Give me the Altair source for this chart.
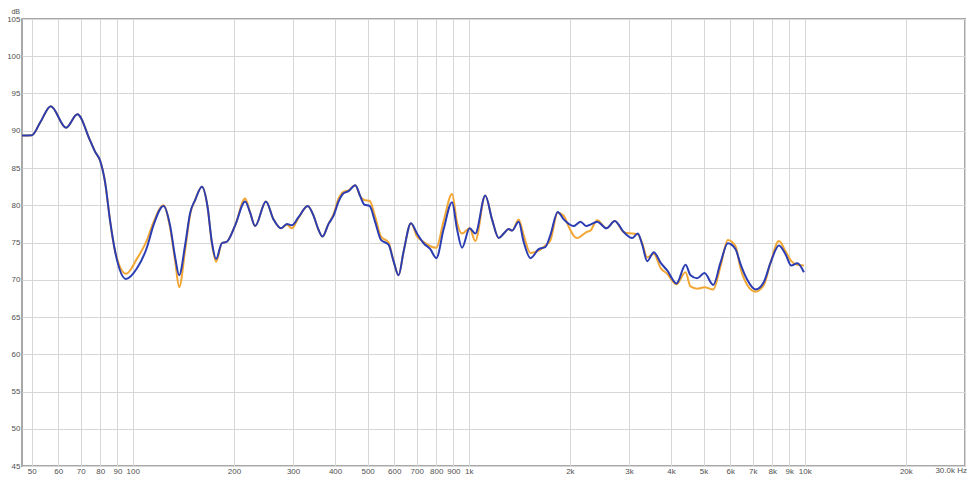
import altair as alt
import pandas as pd

# Frequencies (Hz)
freq = [46.8, 50.1, 53.0, 57.0, 63.3, 68.4, 74.6, 77.2, 79.9, 82.7, 85.6, 88.6, 95.5,
        102.8, 110.1, 115.2, 123.4, 129.1, 133.7, 137.4, 143.2, 148.2, 153.3, 160.6,
        166.8, 171.9, 177.0, 184.1, 190.5, 201.7, 216.0, 223.5, 231.3, 249.0, 262.4,
        276.0, 287.6, 297.6, 311.4, 331.7, 345.1, 356.5, 367.1, 382.5, 395.9, 409.7,
        424.0, 438.7, 459.4, 475.5, 488.7, 506.8, 527.0, 548.0, 577.2, 597.3, 618.2,
        639.9, 673.1, 701.5, 734.0, 768.5, 800.8, 842.0, 891.8, 922.8, 955.0, 1006,
        1046, 1120, 1173, 1228, 1271, 1315, 1346, 1408, 1457, 1526, 1615, 1691, 1750,
        1840, 1917, 1985, 2054, 2102, 2150, 2240, 2302, 2412, 2570, 2721, 2893, 3064,
        3185, 3284, 3398, 3555, 3723, 3897, 4153, 4418, 4572, 4787, 5031, 5342, 5616,
        5904, 6224, 6442, 6745, 7141, 7558, 7913, 8381, 8773, 9123, 9506, 9945]

# Blue trace (dB)
blue_db = [89.35, 89.4, 91.1, 93.3, 90.4, 92.2, 88.7, 87.2, 86.0, 83.1, 77.9, 73.8, 70.1,
           71.5, 74.3, 77.3, 79.9, 77.3, 73.0, 70.6, 74.7, 79.0, 80.7, 82.5,
           79.9, 75.1, 72.8, 74.9, 75.1, 77.3, 80.5, 79.0, 77.2, 80.5, 78.1,
           76.9, 77.5, 77.3, 78.4, 79.9, 78.6, 76.8, 75.8, 77.5, 78.6, 80.5,
           81.6, 81.9, 82.7, 81.2, 80.1, 79.9, 77.7, 75.35, 74.7, 72.5, 70.6,
           73.8, 77.6, 76.2, 74.9, 74.1, 72.9, 76.8, 80.4, 76.8, 74.3, 76.9,
           76.2, 81.3, 78.1, 75.6, 76.2, 76.8, 76.6, 77.8, 75.1, 72.9, 74.1, 74.4, 76.0,
           79.1, 78.1, 77.5, 77.2, 77.5, 77.8, 77.2, 77.4, 77.8, 76.9, 77.9, 76.4, 75.6,
           76.2, 74.7, 72.5, 73.7, 72.3, 71.25, 69.5, 72.0, 70.6, 70.2, 70.9, 69.3, 72.3,
           74.9, 74.1, 72.1, 70.0, 68.7, 69.7, 72.3, 74.6, 73.4, 71.9, 72.2, 71.0]

# Orange trace (dB)
orange_db = [89.35, 89.4, 91.1, 93.3, 90.4, 92.2, 88.7, 87.2, 86.0, 83.1, 77.9, 73.8, 70.8,
             72.8, 75.3, 77.7, 80.0, 77.0, 72.5, 69.0, 74.0, 78.8, 80.7, 82.5,
             79.9, 74.9, 72.4, 74.9, 75.1, 77.3, 80.9, 79.0, 77.2, 80.5, 78.1,
             76.9, 77.4, 76.9, 78.3, 79.9, 78.6, 76.8, 75.8, 77.5, 78.8, 80.9,
             81.8, 82.0, 82.7, 81.2, 80.7, 80.6, 78.4, 75.8, 75.0, 72.5, 70.6,
             73.8, 77.6, 75.8, 75.1, 74.5, 74.3, 77.9, 81.5, 77.7, 76.2, 76.9,
             75.2, 81.3, 78.1, 75.6, 76.2, 76.8, 76.6, 78.1, 76.0, 73.6, 73.9, 74.6, 75.3,
             79.0, 78.6, 77.1, 75.9, 75.6, 75.8, 76.4, 76.6, 78.0, 76.9, 77.9, 76.4, 76.2,
             76.1, 74.9, 73.0, 73.5, 71.6, 70.8, 69.4, 71.0, 69.1, 68.8, 69.0, 68.7, 71.8,
             75.35, 74.5, 71.5, 69.3, 68.4, 69.3, 72.3, 75.2, 73.8, 72.5, 72.0, 71.9]

x_ticks = [50, 60, 70, 80, 90, 100, 200, 300, 400, 500, 600, 700, 800, 900, 1000,
           2000, 3000, 4000, 5000, 6000, 7000, 8000, 9000, 10000, 20000, 30000]
y_ticks = [45, 50, 55, 60, 65, 70, 75, 80, 85, 90, 95, 100, 105]

df = pd.DataFrame({
    "freq": freq + freq,
    "db": orange_db + blue_db,
    "trace": ["orange"] * len(freq) + ["blue"] * len(freq),
})

FONT = "Liberation Sans"
LABEL_COLOR = "#505050"
W, H = 943, 447

x_scale = alt.Scale(type="log", domain=[46.8, 30000], nice=False)
y_scale = alt.Scale(domain=[45, 105], nice=False, zero=False)

x_axis = alt.Axis(
    values=x_ticks,
    title=None,
    grid=True,
    gridColor="#d6d6d6",
    gridWidth=1,
    ticks=False,
    domain=False,
    labelPadding=1,
    labelFontSize=8,
    labelFont=FONT,
    labelColor=LABEL_COLOR,
    labelOverlap=False,
    labelExpr="datum.value == 30000 ? '' : (datum.value >= 1000 ? (datum.value / 1000) + 'k' : datum.value)",
)
y_axis = alt.Axis(
    values=y_ticks,
    title=None,
    grid=True,
    gridColor="#d6d6d6",
    gridWidth=1,
    ticks=False,
    domain=False,
    labelPadding=2,
    labelFontSize=8,
    labelFont=FONT,
    labelColor=LABEL_COLOR,
    labelOverlap=False,
)

lines = alt.Chart(df).mark_line(strokeWidth=2, interpolate="monotone").encode(
    x=alt.X("freq:Q", scale=x_scale, axis=x_axis),
    y=alt.Y("db:Q", scale=y_scale, axis=y_axis),
    color=alt.Color(
        "trace:N",
        scale=alt.Scale(domain=["orange", "blue"], range=["#f2a633", "#2b3db3"]),
        legend=None,
    ),
    order=alt.Order("trace:N", sort="descending"),
)

unit = alt.Chart(alt.Data(values=[{"u": "dB"}])).mark_text(
    align="right", baseline="top", fontSize=7, font=FONT, color=LABEL_COLOR
).encode(x=alt.value(-2), y=alt.value(-11), text=alt.Text("u:N"))

end_label = alt.Chart(alt.Data(values=[{"t": "30.0k Hz"}])).mark_text(
    align="right", baseline="top", fontSize=8, font=FONT, color=LABEL_COLOR
).encode(
    x=alt.value(W + 2),
    y=alt.value(H + 1),
    text=alt.Text("t:N"),
)

chart = alt.layer(lines, unit, end_label).properties(
    width=W,
    height=H,
    autosize=alt.AutoSizeParams(type="none"),
    padding={"left": 14, "top": 11, "right": 2, "bottom": 11},
    background="white",
).configure_view(stroke="#a8a8a8", strokeWidth=2)

chart.save("out.html", embed_options={"renderer": "svg", "actions": False})
